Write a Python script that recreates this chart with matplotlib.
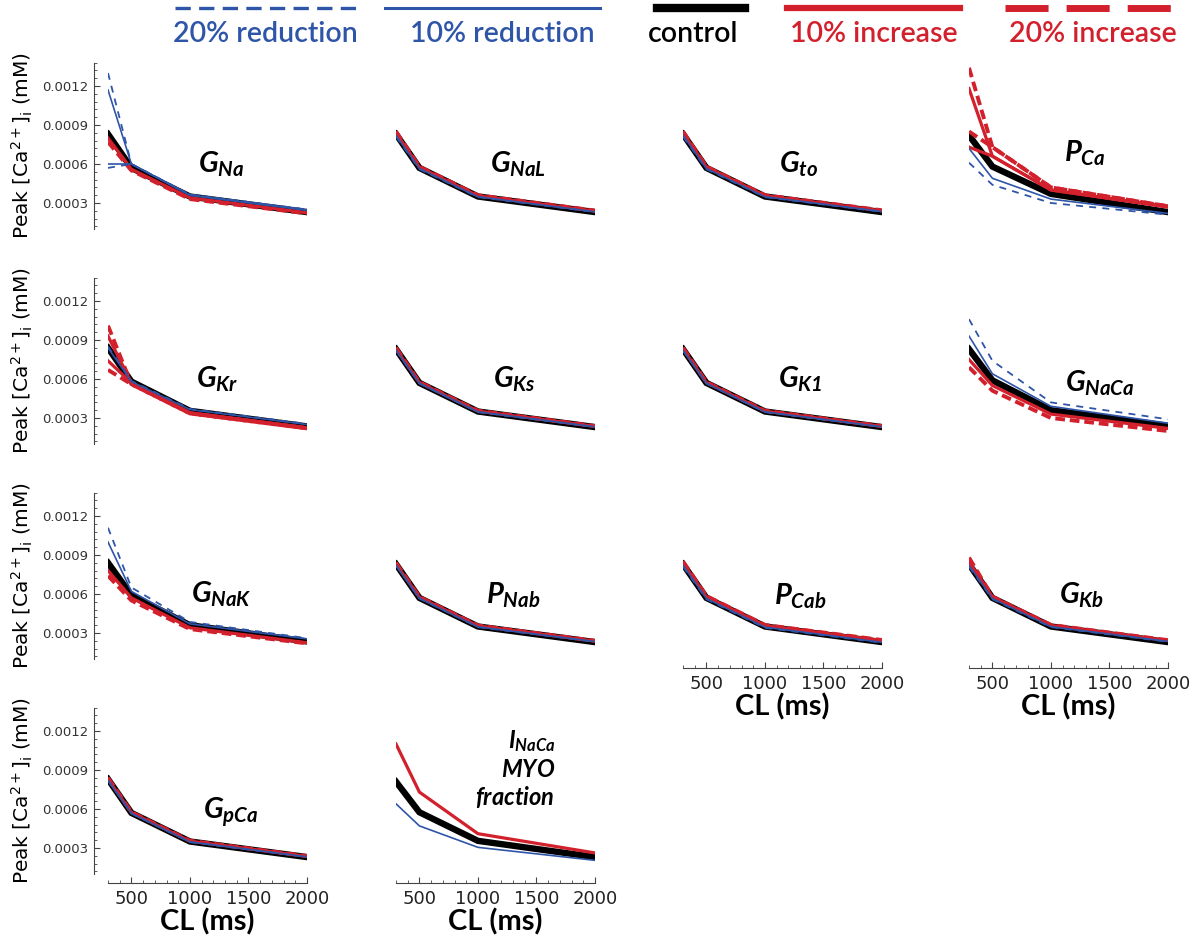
import numpy as np
import matplotlib.pyplot as plt
from matplotlib.lines import Line2D
from matplotlib.ticker import MultipleLocator, FixedLocator, FuncFormatter

plt.rcParams['font.family'] = ['DejaVu Sans']
plt.rcParams['mathtext.fontset'] = 'custom'
plt.rcParams['mathtext.it'] = 'Lato:italic:bold'
plt.rcParams['mathtext.bf'] = 'Lato:italic:bold'
plt.rcParams['mathtext.rm'] = 'DejaVu Sans'
plt.rcParams['lines.scale_dashes'] = False

# cycle length (ms)
cl = [300, 500, 1000, 2000]

# peak [Ca2+]i (mM) per panel: 20% red., 10% red., control, 10% inc., 20% inc.
ctrl = [0.00083, 0.00057, 0.00035, 0.00023]

gna = [[0.00130, 0.00060, 0.000365, 0.000250],
       [0.00117, 0.00060, 0.000360, 0.000245],
       ctrl,
       [0.00080, 0.00056, 0.000340, 0.000225],
       [0.00077, 0.00055, 0.000330, 0.000220]]
gna_alt = [[0.00057, 0.00060, 0.000365, 0.000250],
           [0.00060, 0.00060, 0.000360, 0.000245], None, None, None]

gnal = [[0.00081, 0.00056, 0.000345, 0.000230],
        [0.00082, 0.000565, 0.000348, 0.000232],
        ctrl,
        [0.00084, 0.000575, 0.000355, 0.000238],
        [0.00085, 0.00058, 0.000360, 0.000242]]

gto = [[0.00081, 0.00056, 0.000345, 0.000232],
       [0.00082, 0.000565, 0.000348, 0.000234],
       ctrl,
       [0.00084, 0.000578, 0.000356, 0.000240],
       [0.00085, 0.00058, 0.000360, 0.000244]]

pca = [[0.00061, 0.00044, 0.000300, 0.000210],
       [0.00072, 0.00049, 0.000330, 0.000220],
       [0.00082, 0.00058, 0.000370, 0.000230],
       [0.00118, 0.00066, 0.000400, 0.000270],
       [0.00134, 0.00073, 0.000420, 0.000275]]
pca_alt = [None, None, None,
           [0.00073, 0.00066, 0.000400, 0.000270],
           [0.00085, 0.00073, 0.000420, 0.000275]]

gkr = [[0.00085, 0.000585, 0.000370, 0.000255],
       [0.00084, 0.00058, 0.000365, 0.000250],
       [0.00084, 0.00058, 0.000355, 0.000235],
       [0.00093, 0.00057, 0.000340, 0.000225],
       [0.00101, 0.00056, 0.000335, 0.000220]]
gkr_alt = [None, None, None,
           [0.00074, 0.00057, 0.000340, 0.000225],
           [0.00067, 0.00056, 0.000335, 0.000220]]

gks = [[0.00082, 0.000565, 0.000345, 0.000230],
       [0.00082, 0.000567, 0.000347, 0.000232],
       ctrl,
       [0.00083, 0.000573, 0.000353, 0.000236],
       [0.00084, 0.000576, 0.000356, 0.000238]]

gk1 = [[0.00082, 0.000565, 0.000345, 0.000230],
       [0.00082, 0.000567, 0.000347, 0.000232],
       ctrl,
       [0.00083, 0.000573, 0.000353, 0.000236],
       [0.00084, 0.000576, 0.000356, 0.000238]]

gnaca = [[0.00106, 0.00074, 0.000420, 0.000290],
         [0.00093, 0.00064, 0.000390, 0.000260],
         [0.00083, 0.00059, 0.000360, 0.000240],
         [0.00075, 0.00055, 0.000330, 0.000220],
         [0.00069, 0.00051, 0.000300, 0.000200]]

gnak = [[0.00111, 0.00065, 0.000385, 0.000260],
        [0.00100, 0.00062, 0.000370, 0.000255],
        [0.00084, 0.00059, 0.000360, 0.000235],
        [0.00078, 0.00057, 0.000340, 0.000225],
        [0.00074, 0.00055, 0.000330, 0.000220]]

pnab = [[0.00082, 0.000565, 0.000345, 0.000232],
        [0.00082, 0.000567, 0.000347, 0.000234],
        ctrl,
        [0.00083, 0.000575, 0.000355, 0.000238],
        [0.00084, 0.000578, 0.000358, 0.000240]]

pcab = [[0.00081, 0.00056, 0.000340, 0.000225],
        [0.00082, 0.000565, 0.000345, 0.000228],
        ctrl,
        [0.00084, 0.00058, 0.000358, 0.000242],
        [0.00085, 0.000585, 0.000362, 0.000246]]

gkb = [[0.00081, 0.00056, 0.000345, 0.000232],
       [0.00082, 0.000565, 0.000348, 0.000235],
       ctrl,
       [0.00085, 0.000578, 0.000358, 0.000242],
       [0.00088, 0.00058, 0.000362, 0.000245]]

gpca = [[0.00082, 0.000565, 0.000345, 0.000230],
        [0.00082, 0.000567, 0.000347, 0.000232],
        ctrl,
        [0.00083, 0.000573, 0.000353, 0.000236],
        [0.00084, 0.000576, 0.000356, 0.000238]]

inaca_myo = [None,
             [0.00064, 0.00047, 0.000305, 0.000205],
             [0.00081, 0.000575, 0.000355, 0.000230],
             [0.00110, 0.00073, 0.000410, 0.000262],
             None]

labels = ['20% reduction', '10% reduction', 'control', '10% increase', '20% increase']
blue = '#2f55a8'
red = '#d2202c'
styles = [dict(color=blue, lw=1.3, dashes=(5, 4.5)),
          dict(color=blue, lw=1.2),
          dict(color='black', lw=4.6, solid_joinstyle='miter'),
          dict(color=red, lw=2.3),
          dict(color=red, lw=2.8, dashes=(7, 3.5))]
zorders = [6, 5, 2, 3, 4]

W, H = 1199, 942
fig = plt.figure(figsize=(W / 100, H / 100), dpi=100)

col_x = [108, 396, 683, 969]   # pixel of CL=300
row_y = [86, 301, 516, 731]    # pixel of 0.0012
PX = 39 / 0.0003
Y0, Y1 = 0.0001, 0.00138
tick_col = '#444444'

panels = [
    (0, 0, gna, gna_alt, r'$\mathit{G}_{\mathit{Na}}$', (1270, 0.00060)),
    (0, 1, gnal, None, r'$\mathit{G}_{\mathit{NaL}}$', (1340, 0.00060)),
    (0, 2, gto, None, r'$\mathit{G}_{\mathit{to}}$', (1290, 0.00060)),
    (0, 3, pca, pca_alt, r'$\mathit{P}_{\mathit{Ca}}$', (1290, 0.00068)),
    (1, 0, gkr, gkr_alt, r'$\mathit{G}_{\mathit{Kr}}$', (1230, 0.00060)),
    (1, 1, gks, None, r'$\mathit{G}_{\mathit{Ks}}$', (1310, 0.00060)),
    (1, 2, gk1, None, r'$\mathit{G}_{\mathit{K}\mathbf{1}}$', (1300, 0.00060)),
    (1, 3, gnaca, None, r'$\mathit{G}_{\mathit{NaCa}}$', (1420, 0.00057)),
    (2, 0, gnak, None, r'$\mathit{G}_{\mathit{NaK}}$', (1270, 0.00060)),
    (2, 1, pnab, None, r'$\mathit{P}_{\mathit{Nab}}$', (1300, 0.00059)),
    (2, 2, pcab, None, r'$\mathit{P}_{\mathit{Cab}}$', (1300, 0.00058)),
    (2, 3, gkb, None, r'$\mathit{G}_{\mathit{Kb}}$', (1260, 0.00059)),
    (3, 0, gpca, None, r'$\mathit{G}_{\mathit{pCa}}$', (1350, 0.00058)),
    (3, 1, inaca_myo, None, None, None),
]
bottom_panels = {(3, 0), (3, 1), (2, 2), (2, 3)}

for r, c, series, alt, title, tpos in panels:
    top = row_y[r] - (Y1 - 0.0012) * PX
    bot = row_y[r] + (0.0012 - Y0) * PX
    ax = fig.add_axes([col_x[c] / W, 1 - bot / H, 199 / W, (bot - top) / H])
    ax.set_xlim(300, 2000)
    ax.set_ylim(Y0, Y1)
    ax.patch.set_visible(False)

    for i in [2, 3, 4, 1, 0]:
        if series[i] is not None:
            ax.plot(cl, series[i], zorder=zorders[i], **styles[i])
        if alt is not None and alt[i] is not None:
            ax.plot(cl, alt[i], zorder=zorders[i], **styles[i])

    if title is not None:
        ax.text(tpos[0], tpos[1], title, fontsize=21, ha='center', va='center')
    else:
        for s, yv in zip([r'$\mathit{I}_{\mathit{NaCa}}$', r'$\mathit{MYO}$',
                          r'$\mathit{fraction}$'], [0.00112, 0.00090, 0.00069]):
            ax.text(1660, yv, s, fontsize=17, ha='right', va='center')

    for s in ['top', 'right']:
        ax.spines[s].set_visible(False)

    if c == 0:
        ax.spines['left'].set_position(('outward', 10))
        ax.spines['left'].set_color(tick_col)
        ax.spines['left'].set_linewidth(0.8)
        ax.yaxis.set_major_locator(FixedLocator([0.0003, 0.0006, 0.0009, 0.0012]))
        ax.yaxis.set_minor_locator(MultipleLocator(0.00006))
        ax.yaxis.set_major_formatter(FuncFormatter(lambda v, p: f'{v:.4f}'))
        ax.tick_params(axis='y', which='both', direction='in', colors=tick_col,
                       labelcolor='#333333', labelsize=9.5, pad=4)
        ax.tick_params(axis='y', which='major', length=4, width=0.8)
        ax.tick_params(axis='y', which='minor', length=2, width=0.6)
        yc = 1 - (top + bot) / 2 / H
        fig.text(22 / W, yc, r'Peak [Ca$^{2+}$]$_\mathrm{i}$ (mM)', rotation=90,
                 ha='center', va='center', fontsize=14.5)
    else:
        ax.spines['left'].set_visible(False)
        ax.set_yticks([])

    if (r, c) in bottom_panels:
        ax.spines['bottom'].set_position(('outward', 6.5))
        ax.spines['bottom'].set_color(tick_col)
        ax.spines['bottom'].set_linewidth(0.8)
        ax.xaxis.set_major_locator(FixedLocator([500, 1000, 1500, 2000]))
        ax.xaxis.set_minor_locator(MultipleLocator(100))
        ax.tick_params(axis='x', which='both', direction='in', colors=tick_col,
                       labelcolor='#222222', labelsize=13, pad=5)
        ax.tick_params(axis='x', which='major', length=4, width=0.8)
        ax.tick_params(axis='x', which='minor', length=2, width=0.6)
        ax.set_xlabel('CL (ms)', fontsize=21, fontweight='bold', family='Lato', labelpad=0)
    else:
        ax.spines['bottom'].set_visible(False)
        ax.set_xticks([])

# legend along the top
leg = [(175, 360, 265), (385, 600, 502), (657, 745, 693), (787, 960, 874), (1005, 1183, 1093)]
leg_styles = [dict(color=blue, lw=2.4, dashes=(11, 6)),
              dict(color=blue, lw=2.2),
              dict(color='black', lw=6),
              dict(color=red, lw=4.5),
              dict(color=red, lw=5, dashes=(31, 13))]
leg_text_col = [blue, blue, 'black', red, red]
for (x0, x1, xc), st, lab, tc in zip(leg, leg_styles, labels, leg_text_col):
    fig.add_artist(Line2D([x0 / W, x1 / W], [1 - 8 / H, 1 - 8 / H], **st))
    fig.text(xc / W, 1 - 34 / H, lab, color=tc, fontsize=20.5, family='Lato',
             fontweight='semibold', ha='center', va='center')

fig.savefig('out.png', dpi=100)
